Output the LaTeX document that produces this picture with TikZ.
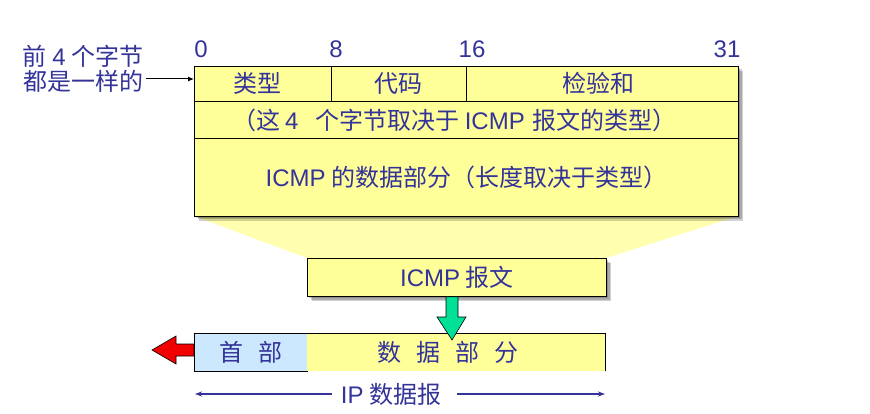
\documentclass[tikz,border=0pt]{standalone}
\usepackage{fontspec}
\setmainfont{Noto Sans CJK SC}
\newfontfamily\lat{Liberation Sans}
\usetikzlibrary{arrows.meta}
\definecolor{txtblue}{RGB}{51,51,153}
\definecolor{boxyellow}{RGB}{255,255,153}
\definecolor{paleyellow}{RGB}{255,255,175}
\definecolor{hdrblue}{RGB}{204,232,255}
\definecolor{arrgreen}{RGB}{0,224,150}
\definecolor{arrred}{RGB}{240,0,0}
\newcommand{\La}[1]{{\lat #1}}
\newcommand{\Up}[2]{\raisebox{#1}{#2}}
\tikzset{
  txt/.style={text=txtblue, font=\fontsize{24}{25}\selectfont, inner sep=0pt},
  cell/.style={txt, draw=black, line width=0.8pt, fill=boxyellow, anchor=north west, inner sep=0pt},
  shadowbox/.style={fill=black, opacity=0.18},
}
\begin{document}
\begin{tikzpicture}[x=1pt,y=-1pt]
\useasboundingbox (0,0) rectangle (870,414);
% funnel
\fill[paleyellow] (194,216) -- (738,216) -- (606,258) -- (307,258) -- cycle;
% shadows
\foreach \d in {2,3.5,5}{
  \fill[shadowbox] (194+\d,66+\d) rectangle (738+\d,216+\d);
  \fill[shadowbox] (307+\d,258+\d) rectangle (606+\d,296+\d);
}
% main ICMP header box
\node[cell, minimum width=137pt, minimum height=35pt] (type) at (194,66) {\Up{3.5pt}{类型}\kern10pt};
\node[cell, minimum width=135pt, minimum height=35pt] (code) at (331,66) {\Up{3.5pt}{代码}};
\node[cell, minimum width=272pt, minimum height=35pt] (csum) at (466,66) {\Up{3.5pt}{检验和}\kern8pt};
\node[cell, minimum width=544pt, minimum height=37pt] (rest) at (194,101) {（这\hspace{5pt}\La{4}\hspace{17pt}个字节取决于 \La{ICMP}\hspace{8pt}报文的类型）\kern24pt};
\node[cell, minimum width=544pt, minimum height=78pt] (data) at (194,138) {\Up{-3pt}{\La{ICMP} 的数据部分（长度取决于类型）}};
% bit labels
\node[txt, font=\fontsize{24}{25}\lat] (b0) at (201,49.5) {0};
\node[txt, font=\fontsize{24}{25}\lat] (b8) at (336,49.5) {8};
\node[txt, font=\fontsize{24}{25}\lat] (b16) at (472,49.5) {16};
\node[txt, font=\fontsize{24}{25}\lat] (b31) at (727,49.5) {31};
% left note
\node[txt, align=center] (note) at (83,69) {前 \La{4} 个字节\\都是一样的};
\coordinate (nstart) at (146,79);
\draw[line width=1pt, -{Latex[length=6pt,width=5pt]}] (nstart) -- (nstart -| type.west);
% ICMP message
\node[cell, minimum width=299pt, minimum height=38pt] (msg) at (307,258) {\La{ICMP} 报文};
% IP datagram
\node[cell, fill=hdrblue, minimum width=113pt, minimum height=38pt] (hdr) at (194,333) {首\hspace{0.6em}部};
\node[txt, fill=boxyellow, anchor=north west, minimum width=298pt, minimum height=38pt] (ipdata) at (307,333) {数\hspace{0.62em}据\hspace{0.62em}部\hspace{0.62em}分\kern16pt};
\draw[line width=0.8pt] (ipdata.south east) -- (ipdata.north east) -- (ipdata.north west);
% green arrow
\draw[fill=arrgreen, line width=0.6pt] (msg.south -| 446,0) -- (446,317) -- (437,317) -- (452,340) -- (466,317) -- (458,317) -- (msg.south -| 458,0) -- cycle;
% red arrow
\draw[fill=arrred, line width=0.6pt] (hdr.west |- 0,344) -- (176,344) -- (176,336) -- (152,350) -- (176,364) -- (176,356) -- (hdr.west |- 0,356) -- cycle;
% IP datagram span
\node[txt] (iplbl) at (391,394) {\La{IP} 数据报};
\coordinate (ipL) at (195,394);
\coordinate (ipR) at (605,394);
\draw[txtblue, line width=1.3pt, -{Stealth[length=7pt,width=5pt]}] ([xshift=-9pt]iplbl.west) -- (ipL);
\draw[txtblue, line width=1.3pt, -{Stealth[length=7pt,width=5pt]}] ([xshift=16pt]iplbl.east) -- (ipR);
\end{tikzpicture}
\end{document}
